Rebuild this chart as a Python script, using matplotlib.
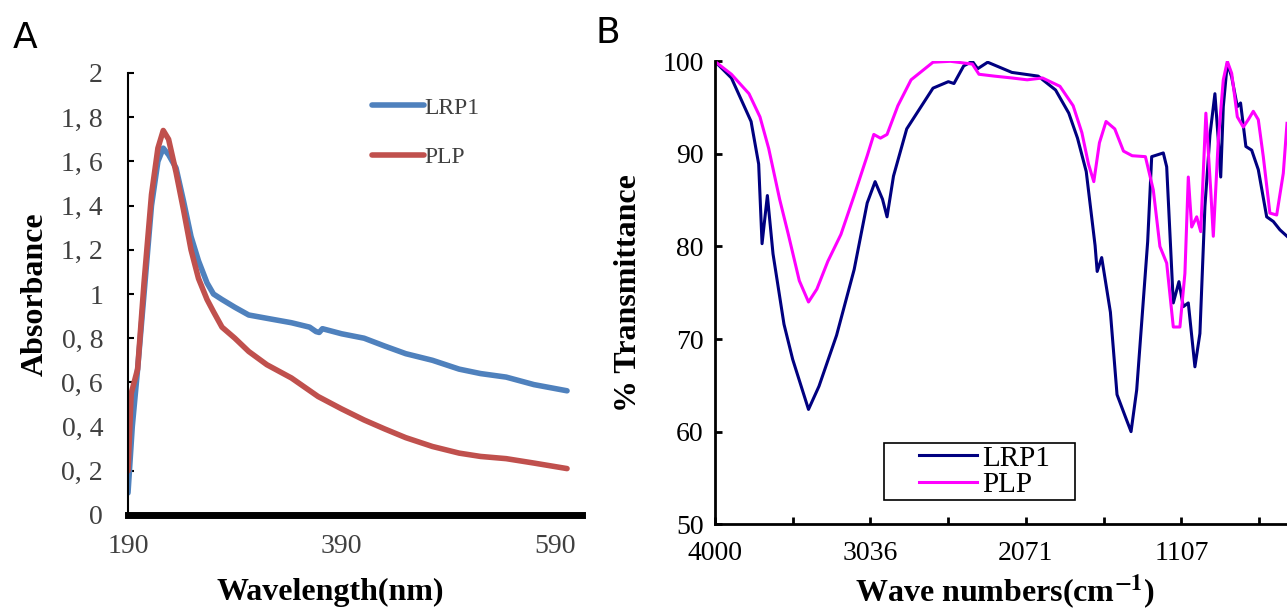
import matplotlib
matplotlib.use('Agg')
import matplotlib.pyplot as plt
from matplotlib.patches import Rectangle
from matplotlib.ticker import FuncFormatter

plt.rcParams['mathtext.fontset'] = 'stix'

# ---- panel A: UV absorbance ----
uv_nm_lrp1 = [190, 194, 199, 205, 212, 218, 223, 228, 235, 242, 249, 256, 264, 270, 278, 290, 303, 320, 343,
              360, 366, 369, 372, 390, 411, 430, 450, 475, 500, 520, 544, 570, 601]
uv_abs_lrp1 = [0.10, 0.40, 0.66, 1.00, 1.40, 1.60, 1.66, 1.63, 1.57, 1.42, 1.26, 1.15, 1.05, 1.00, 0.975, 0.94,
               0.905, 0.89, 0.87, 0.85, 0.83, 0.826, 0.843, 0.82, 0.80, 0.765, 0.73, 0.70, 0.66, 0.64, 0.624, 0.59,
               0.562]
uv_nm_plp = [190, 193, 199, 205, 212, 218, 223, 228, 235, 242, 249, 256, 264, 270, 278, 290, 303, 320, 343,
             368, 390, 411, 430, 450, 475, 500, 520, 544, 570, 601]
uv_abs_plp = [0.20, 0.55, 0.66, 1.05, 1.45, 1.66, 1.74, 1.70, 1.55, 1.38, 1.20, 1.07, 0.975, 0.92, 0.85, 0.80,
              0.74, 0.68, 0.62, 0.536, 0.48, 0.43, 0.39, 0.35, 0.31, 0.28, 0.265, 0.255, 0.235, 0.21]

# ---- panel B: FTIR ----
ir_wn_lrp1 = [4000, 3897, 3775, 3728, 3707, 3690, 3674, 3639, 3571, 3517, 3419, 3354, 3245, 3136, 3055, 3006,
              2960, 2932, 2892, 2810, 2647, 2552, 2517, 2457, 2403, 2370, 2308, 2158, 1995, 1887, 1805, 1751,
              1697, 1642, 1629, 1601, 1547, 1506, 1452, 1419, 1384, 1316, 1291, 1219, 1198, 1157, 1122, 1095,
              1064, 1023, 992, 961, 930, 899, 878, 863, 847, 822, 795, 760, 740, 707, 671, 630, 578, 537, 496,
              452]
ir_t_lrp1 = [100, 98.2, 93.5, 88.9, 80.3, 83.0, 85.5, 79.2, 71.6, 67.8, 62.4, 64.9, 70.4, 77.5, 84.7, 87.0,
             85.1, 83.2, 87.6, 92.7, 97.1, 97.8, 97.6, 99.5, 100, 99.2, 99.9, 98.8, 98.4, 96.9, 94.4, 91.7,
             88.1, 80.1, 77.3, 78.8, 72.9, 64.0, 61.5, 60.0, 64.5, 80.5, 89.7, 90.1, 88.6, 73.9, 76.2, 73.5,
             73.9, 67.0, 70.6, 84.3, 92.0, 96.5, 91.5, 87.5, 95.1, 99.8, 98.3, 95.1, 95.5, 90.8, 90.4, 88.3,
             83.2, 82.7, 81.8, 81.1]
ir_wn_plp = [4000, 3897, 3788, 3720, 3666, 3598, 3544, 3476, 3419, 3367, 3299, 3218, 3136, 3055, 3014, 2973,
             2932, 2865, 2783, 2647, 2539, 2403, 2362, 2267, 2158, 2063, 1968, 1860, 1778, 1724, 1683, 1650,
             1615, 1574, 1520, 1466, 1412, 1330, 1281, 1240, 1198, 1157, 1116, 1085, 1064, 1043, 1012, 987,
             955, 925, 909, 878, 847, 822, 795, 760, 723, 692, 661, 630, 599, 558, 516, 475, 452]
ir_t_plp = [100, 98.6, 96.5, 94.0, 90.6, 85.1, 81.3, 76.3, 74.0, 75.4, 78.4, 81.3, 85.5, 89.8, 92.1, 91.7,
            92.1, 95.2, 98.0, 99.9, 100, 99.7, 98.6, 98.4, 98.2, 98.0, 98.2, 97.3, 95.2, 92.3, 88.9, 87.0,
            91.2, 93.5, 92.7, 90.3, 89.8, 89.7, 86.1, 80.0, 78.2, 71.3, 71.3, 77.1, 87.5, 82.1, 83.2, 81.6,
            94.4, 86.1, 81.1, 91.5, 98.0, 100, 98.7, 94.0, 92.9, 93.7, 94.6, 93.7, 89.7, 83.6, 83.4, 87.9,
            93.3]

ir_ticks = [4000, 3036, 2071, 1107]
ir_minor = [3518, 2553, 1589, 625]

serif = ['Liberation Serif', 'DejaVu Serif']
W, H = 1287, 612
fig = plt.figure(figsize=(12.87, 6.12), dpi=100)

# panel A
axA = fig.add_axes([128 / W, 1 - 515 / H, 454 / W, 442 / H])
axA.plot(uv_nm_lrp1, uv_abs_lrp1, color='#4F81BD', lw=4, label='LRP1', solid_capstyle='round')
axA.plot(uv_nm_plp, uv_abs_plp, color='#C0504D', lw=4, label='PLP', solid_capstyle='round')
axA.set_xlim(190, 615)
axA.set_ylim(0, 2)
axA.set_yticks([0, 0.2, 0.4, 0.6, 0.8, 1.0, 1.2, 1.4, 1.6, 1.8, 2.0])
axA.yaxis.set_major_formatter(FuncFormatter(lambda v, p: ('%g' % round(v, 1)).replace('.', ', ')))
axA.set_xticks([190, 390, 590])
for s in ['top', 'right']:
    axA.spines[s].set_visible(False)
axA.spines['left'].set_linewidth(1.5)
axA.spines['bottom'].set_linewidth(5)
axA.tick_params(axis='y', direction='in', length=4, width=1.5, labelsize=20, labelcolor='#404040', pad=18)
axA.tick_params(axis='x', length=0, labelsize=20, labelcolor='#404040', pad=14)
for t in axA.get_xticklabels() + axA.get_yticklabels():
    t.set_family(serif)
axA.set_ylabel('Absorbance', family=serif, fontweight='bold', fontsize=23, labelpad=8)
fig.text(330 / W, 1 - 592 / H, 'Wavelength(nm)', family=serif, fontweight='bold', fontsize=23,
         ha='center', va='center')
axA.legend(loc='center left', bbox_to_anchor=(0.49, 0.865), frameon=False, handlelength=2.2,
           handletextpad=0.05, labelspacing=1.2, prop={'family': serif, 'size': 17}, labelcolor='#404040')
fig.text(25 / W, 1 - 38 / H, 'A', fontsize=26, ha='center', va='center')

# panel B
axB = fig.add_axes([714.8 / W, 1 - 524.2 / H, 572.2 / W, 462.9 / H])
axB.plot(ir_wn_lrp1, ir_t_lrp1, color='#000080', lw=2.2, label='LRP1')
axB.plot(ir_wn_plp, ir_t_plp, color='#FF00FF', lw=2.2, label='PLP')
axB.set_xlim(4000, 452)
axB.set_ylim(50, 100)
axB.set_yticks([50, 60, 70, 80, 90, 100])
axB.set_xticks(ir_ticks)
axB.set_xticks(ir_minor, minor=True)
for s in ['top', 'right']:
    axB.spines[s].set_visible(False)
for s in ['left', 'bottom']:
    axB.spines[s].set_linewidth(2)
axB.tick_params(which='both', direction='in', length=5, width=2, labelsize=20, pad=8)
axB.tick_params(axis='x', which='major', pad=12)
for t in axB.get_xticklabels() + axB.get_yticklabels():
    t.set_family(serif)
axB.set_ylabel('% Transmittance', family=serif, fontweight='bold', fontsize=23, labelpad=14)
fig.text(1005 / W, 1 - 592 / H, r'Wave numbers(cm$^{\mathbf{-1}}$)', family=serif, fontweight='bold',
         fontsize=23, ha='center', va='center')

# legend box of panel B
fig.patches.append(Rectangle((883.5 / W, 1 - 500 / H), 191 / W, 57 / H, transform=fig.transFigure,
                             fill=False, edgecolor='black', lw=1.2))
axB.legend(loc='center left', bbox_to_anchor=((919 - 714.8) / 572.2, (524.2 - 471.5) / 462.9),
           frameon=False, handlelength=2.0, handletextpad=0.15, borderpad=0, labelspacing=0.0,
           prop={'family': serif, 'size': 21}, borderaxespad=0)
fig.text(608 / W, 1 - 33 / H, 'B', fontsize=26, ha='center', va='center')

fig.savefig('out.png', dpi=100)
